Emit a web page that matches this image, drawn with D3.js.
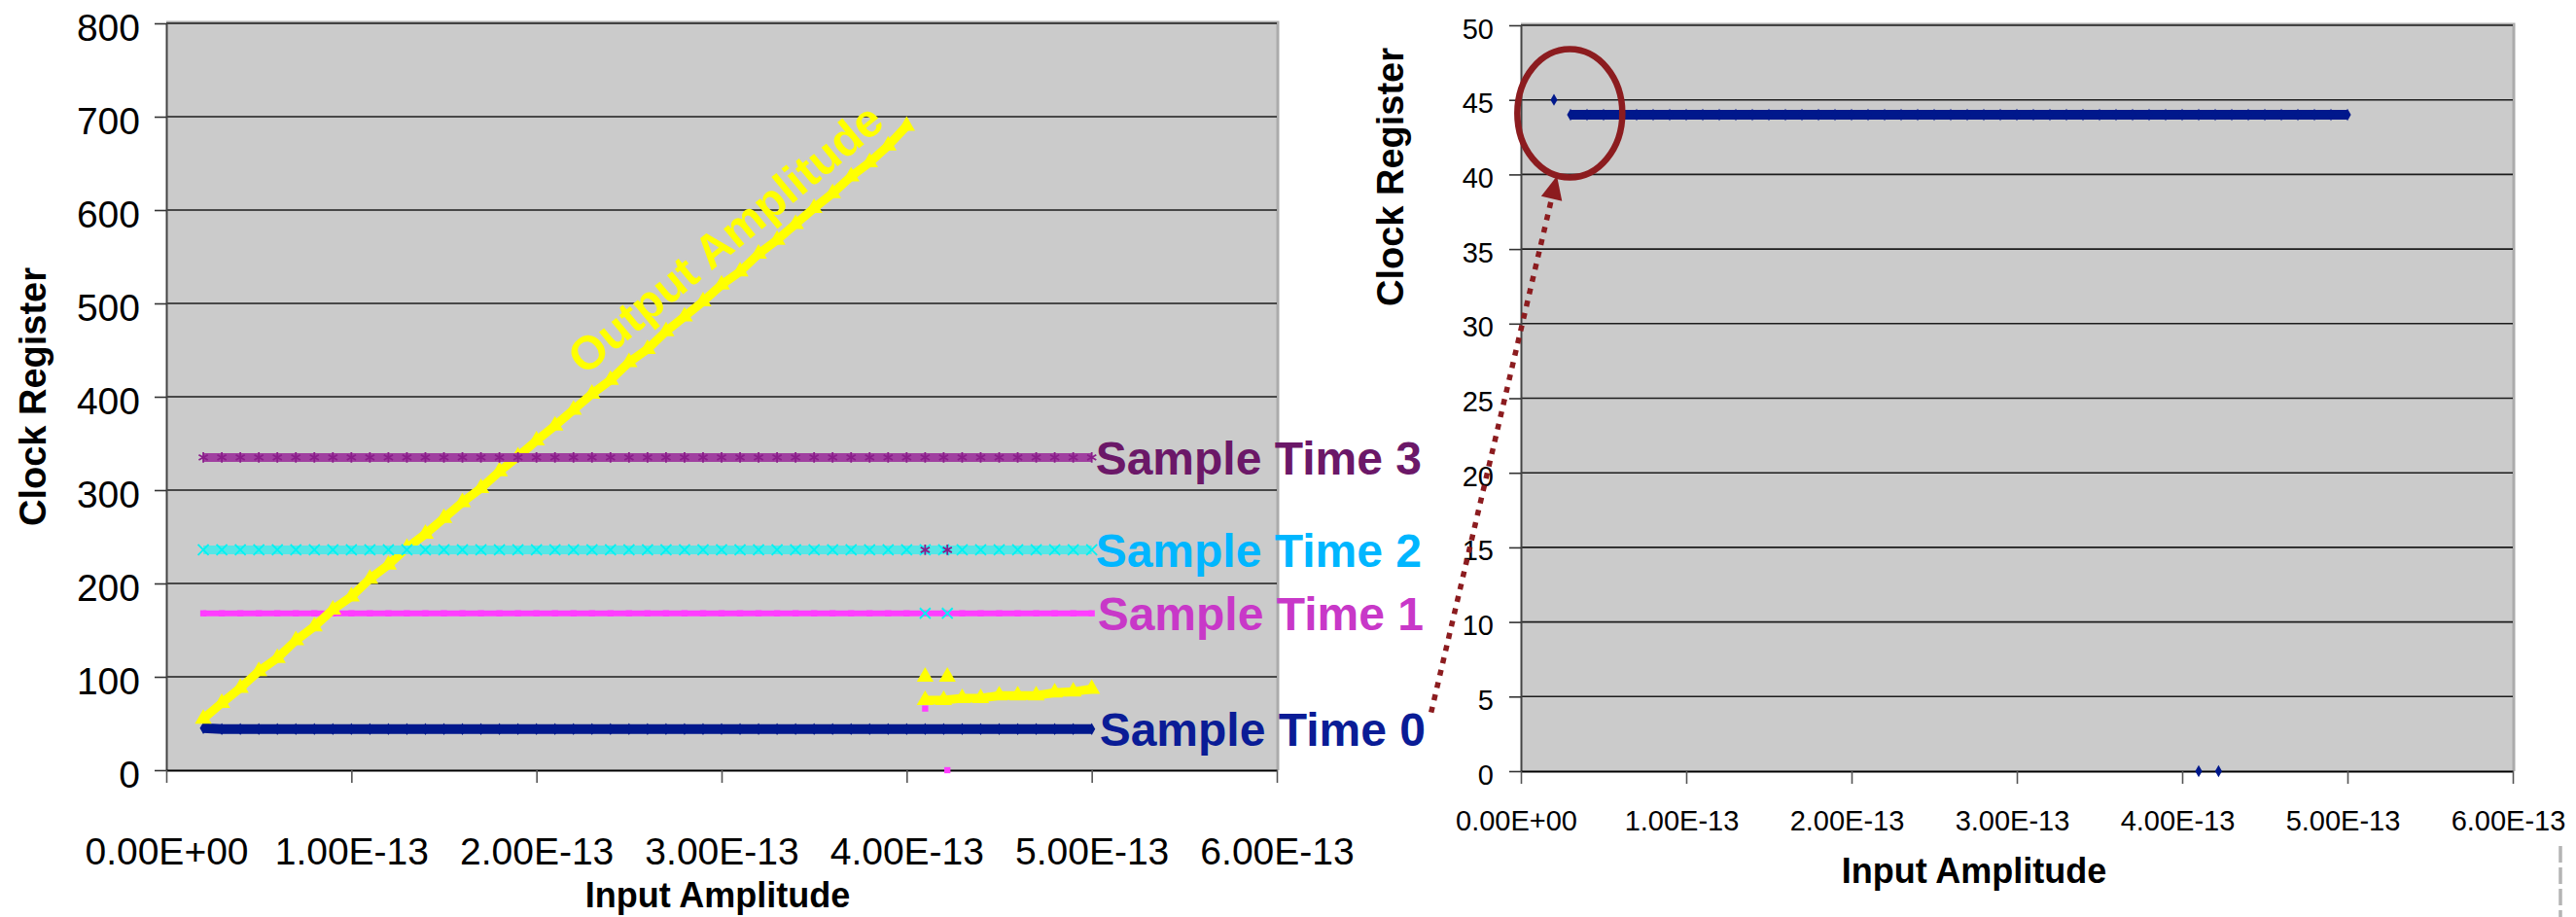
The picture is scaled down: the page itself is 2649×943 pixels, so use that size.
<!DOCTYPE html>
<html lang="en">
<head>
  <meta charset="utf-8">
  <title>Clock Register vs Input Amplitude</title>
  <script src="https://d3js.org/d3.v7.min.js"></script>
  <style>
    body { margin: 0; background: #fff; }
    svg text { font-family: "Liberation Sans", Arial, Helvetica, sans-serif; }
  </style>
</head>
<body>
<svg id="chart" width="2649" height="943"></svg>
<script>
  // input amplitude sweep, in units of 1E-13
  var inputAmplitude = [0.2,0.3,0.4,0.5,0.6,0.7,0.8,0.9,1.0,1.1,1.2,1.3,1.4,1.5,1.6,1.7,1.8,1.9,2.0,2.1,2.2,2.3,2.4,2.5,
    2.6,2.7,2.8,2.9,3.0,3.1,3.2,3.3,3.4,3.5,3.6,3.7,3.8,3.9,4.0,4.1,4.2,4.3,4.4,4.5,4.6,4.7,4.8,4.9,5.0];

  var sampleTime0 = [45,44,44,44,44,44,44,44,44,44,44,44,44,44,44,44,44,44,44,44,44,44,44,44,
    44,44,44,44,44,44,44,44,44,44,44,44,44,44,44,44,44,44,44,44,44,44,44,44,44];
  var sampleTime1 = [168,168,168,168,168,168,168,168,168,168,168,168,168,168,168,168,168,168,168,168,168,168,168,168,
    168,168,168,168,168,168,168,168,168,168,168,168,168,168,168,168,168,168,168,168,168,168,168,168,168];
  var sampleTime2 = [236,236,236,236,236,236,236,236,236,236,236,236,236,236,236,236,236,236,236,236,236,236,236,236,
    236,236,236,236,236,236,236,236,236,236,236,236,236,236,236,236,236,236,236,236,236,236,236,236,236];
  var sampleTime3 = [335,335,335,335,335,335,335,335,335,335,335,335,335,335,335,335,335,335,335,335,335,335,335,335,
    335,335,335,335,335,335,335,335,335,335,335,335,335,335,335,335,335,335,335,335,335,335,335,335,335];
  var outputAmplitude = [55,72,88,106,120,139,154,172,186,205,220,238,253,270,287,302,320,336,353,369,386,403,418,437,
    451,470,486,502,520,534,553,568,585,602,618,636,651,669,690,75,75,77,77,80,80,80,83,84,87];

  // the two odd readings near 4.1E-13
  var glitchAmplitude = [4.1, 4.22];
  var glitchTime0 = [0, 0];
  var glitchTime1 = [66, 0];
  var glitchTime2 = [168, 168];
  var glitchTime3 = [236, 236];
  var glitchOutput = [100, 100];

  var xTicks = [0, 1, 2, 3, 4, 5, 6];
  var xTickLabels = ["0.00E+00", "1.00E-13", "2.00E-13", "3.00E-13", "4.00E-13", "5.00E-13", "6.00E-13"];
  var yTicksLeft = [0, 100, 200, 300, 400, 500, 600, 700, 800];
  var yTicksRight = [0, 5, 10, 15, 20, 25, 30, 35, 40, 45, 50];
  var seriesNames = ["Sample Time 0", "Sample Time 1", "Sample Time 2", "Sample Time 3", "Output Amplitude"];

  var svg = d3.select("#chart");
  var font = '"Liberation Sans", Arial, Helvetica, sans-serif';

  var markers = {
    diamond: d3.symbol().type(d3.symbolDiamond).size(44),
    square: d3.symbol().type(d3.symbolSquare).size(40),
    triangle: d3.symbol().type(d3.symbolTriangle).size(130),
    times: d3.symbol().type(d3.symbolTimes || d3.symbolX || d3.symbolCross).size(80),
    asterisk: d3.symbol().type(d3.symbolAsterisk || d3.symbolCross).size(80)
  };

  function panel(cfg) {
    var x = d3.scaleLinear().domain([0, 6]).range([cfg.left, cfg.right]);
    var y = d3.scaleLinear().domain([0, cfg.yTicks[cfg.yTicks.length - 1]]).range([cfg.bottom, cfg.top]);
    var g = svg.append("g");

    g.append("rect")
        .attr("x", cfg.left).attr("y", cfg.top)
        .attr("width", cfg.right - cfg.left).attr("height", cfg.bottom - cfg.top)
        .attr("fill", "#cbcbcb");
    g.append("path")
        .attr("d", "M" + cfg.left + "," + (cfg.top - 1) + "H" + (cfg.right + 1) + "V" + cfg.bottom)
        .attr("fill", "none").attr("stroke", "#ababab").attr("stroke-width", 3);

    g.append("g").selectAll("line")
        .data(cfg.yTicks.slice(1))
        .join("line")
        .attr("x1", cfg.left).attr("x2", cfg.right)
        .attr("y1", function(d) { return y(d); }).attr("y2", function(d) { return y(d); })
        .attr("stroke", "#1c1c1c").attr("stroke-width", 1.6);

    var ya = g.append("g")
        .attr("transform", "translate(" + cfg.left + ",0)")
        .call(d3.axisLeft(y).tickValues(cfg.yTicks).tickSize(12).tickSizeOuter(0).tickPadding(cfg.yPad));
    ya.attr("font-family", font).attr("font-size", cfg.tickFont);
    ya.select(".domain").attr("stroke", "#444").attr("stroke-width", 2);
    ya.selectAll(".tick line").attr("stroke", "#333").attr("stroke-width", 1.6);
    ya.selectAll(".tick text").attr("fill", "#000").attr("dy", cfg.yDy);

    var xa = g.append("g")
        .attr("transform", "translate(0," + cfg.bottom + ")")
        .call(d3.axisBottom(x).tickValues(xTicks).tickSize(13).tickSizeOuter(0).tickPadding(cfg.xPad)
          .tickFormat(function(d, i) { return xTickLabels[i]; }));
    xa.attr("font-family", font).attr("font-size", cfg.tickFont);
    xa.select(".domain").attr("stroke", "#000").attr("stroke-width", 2);
    xa.selectAll(".tick line").attr("stroke", "#555").attr("stroke-width", 1.6);
    xa.selectAll(".tick text").attr("fill", "#000").attr("dx", cfg.xDx);

    g.append("text")
        .attr("transform", "translate(" + cfg.yTitle[0] + "," + cfg.yTitle[1] + ") rotate(-90)")
        .attr("text-anchor", "middle")
        .attr("font-size", 38).attr("font-weight", "bold")
        .text("Clock Register");
    g.append("text")
        .attr("x", cfg.xTitle[0]).attr("y", cfg.xTitle[1])
        .attr("text-anchor", "middle")
        .attr("font-size", 36).attr("font-weight", "bold")
        .text("Input Amplitude");

    return { g: g, x: x, y: y };
  }

  // one scatter series: a band through neighbouring readings plus its markers
  function series(p, xs, ys, s) {
    var pts = xs.map(function(v, i) { return [v, ys[i]]; });
    var runs = [], cur = [pts[0]];
    for (var i = 1; i < pts.length; i++) {
      // readings that sit close together on screen read as one continuous band
      if (Math.abs(p.y(pts[i][1]) - p.y(pts[i - 1][1])) <= s.joinPx) cur.push(pts[i]);
      else { runs.push(cur); cur = [pts[i]]; }
    }
    runs.push(cur);

    var line = d3.line().x(function(d) { return p.x(d[0]); }).y(function(d) { return p.y(d[1]); });
    var g = p.g.append("g");
    if (s.band) {
      g.selectAll("path.band")
          .data(runs.filter(function(r) { return r.length > 1; }))
          .join("path")
          .attr("class", "band")
          .attr("d", line)
          .attr("fill", "none")
          .attr("stroke", s.bandColor || s.color)
          .attr("stroke-width", s.band);
    }
    g.selectAll("path.mark")
        .data(pts)
        .join("path")
        .attr("class", "mark")
        .attr("transform", function(d) { return "translate(" + p.x(d[0]) + "," + p.y(d[1]) + ")"; })
        .attr("d", s.symbol)
        .attr("fill", s.stroke ? "none" : s.color)
        .attr("stroke", s.stroke ? s.color : "none")
        .attr("stroke-width", s.stroke || 0);
  }

  function pointsOnly(s) {
    return Object.assign({}, s, { band: 0 });
  }

  var left = panel({
    left: 171, right: 1313, top: 24, bottom: 792,
    yTicks: yTicksLeft, tickFont: 39, yPad: 15, yDy: "0.46em", xPad: 56, xDx: 0,
    yTitle: [47, 408], xTitle: [738, 933]
  });
  var right = panel({
    left: 1564, right: 2584, top: 26, bottom: 793,
    yTicks: yTicksRight, tickFont: 29, yPad: 16, yDy: "0.45em", xPad: 27, xDx: -5,
    yTitle: [1443, 182], xTitle: [2030, 908]
  });

  var styles = {
    t0: { color: "#00188c", band: 10, joinPx: 3, symbol: markers.diamond },
    t1: { color: "#ff3dff", band: 6, joinPx: 3, symbol: markers.square },
    out: { color: "#ffff00", band: 9, joinPx: 40, symbol: markers.triangle },
    t2: { color: "#00f2f2", bandColor: "#55e6e6", band: 9, joinPx: 3, symbol: markers.times, stroke: 1.8 },
    t3: { color: "#8a1e8a", bandColor: "#a040a0", band: 9, joinPx: 3, symbol: markers.asterisk, stroke: 1.8 }
  };

  series(left, inputAmplitude, sampleTime0, styles.t0);
  series(left, inputAmplitude, sampleTime1, styles.t1);
  series(left, inputAmplitude, outputAmplitude, styles.out);
  series(left, inputAmplitude, sampleTime2, styles.t2);
  series(left, inputAmplitude, sampleTime3, styles.t3);
  series(left, glitchAmplitude, glitchTime1, pointsOnly(styles.t1));
  series(left, glitchAmplitude, glitchOutput, pointsOnly(styles.out));
  series(left, glitchAmplitude, glitchTime2, pointsOnly(styles.t2));
  series(left, glitchAmplitude, glitchTime3, pointsOnly(styles.t3));

  series(right, inputAmplitude, sampleTime0, styles.t0);
  series(right, glitchAmplitude, glitchTime0, pointsOnly(styles.t0));

  // series labels at the right end of each line
  var last = inputAmplitude[inputAmplitude.length - 1];
  var labelData = [
    { name: seriesNames[3], v: sampleTime3[sampleTime3.length - 1], color: "#6b1868", dx: 4 },
    { name: seriesNames[2], v: sampleTime2[sampleTime2.length - 1], color: "#00b6ff", dx: 4 },
    { name: seriesNames[1], v: sampleTime1[sampleTime1.length - 1], color: "#c838c8", dx: 6 },
    { name: seriesNames[0], v: sampleTime0[sampleTime0.length - 1], color: "#0a1c96", dx: 8 }
  ];
  left.g.append("g").selectAll("text")
      .data(labelData)
      .join("text")
      .attr("x", function(d) { return left.x(last) + d.dx; })
      .attr("y", function(d) { return left.y(d.v); })
      .attr("dy", "0.36em")
      .attr("font-size", 48).attr("font-weight", "bold")
      .attr("fill", function(d) { return d.color; })
      .text(function(d) { return d.name; });

  left.g.append("text")
      .attr("transform", "translate(" + left.x(2.26) + "," + left.y(422) + ") rotate(-39.7)")
      .attr("font-size", 48).attr("font-weight", "bold")
      .attr("fill", "#ffff00")
      .text(seriesNames[4]);

  // callout: circle round the first readings, dotted arrow from "Sample Time 0"
  var red = "#8c1c1f";
  svg.append("ellipse")
      .attr("cx", right.x(0.296)).attr("cy", right.y(44.1))
      .attr("rx", 54).attr("ry", 66)
      .attr("fill", "none").attr("stroke", red).attr("stroke-width", 6.5);

  var from = [right.x(-0.543), right.y(3.93)];
  var tip = [right.x(0.218), right.y(39.9)];
  var len = Math.hypot(tip[0] - from[0], tip[1] - from[1]);
  var ux = (tip[0] - from[0]) / len, uy = (tip[1] - from[1]) / len;
  var base = [tip[0] - 24 * ux, tip[1] - 24 * uy];
  svg.append("line")
      .attr("x1", from[0]).attr("y1", from[1])
      .attr("x2", base[0]).attr("y2", base[1])
      .attr("stroke", red).attr("stroke-width", 5.5)
      .attr("stroke-dasharray", "6 7");
  svg.append("path")
      .attr("d", "M" + tip[0] + "," + tip[1] +
        "L" + (base[0] - 11 * uy) + "," + (base[1] + 11 * ux) +
        "L" + (base[0] + 11 * uy) + "," + (base[1] - 11 * ux) + "Z")
      .attr("fill", red);

  // faint dashed edge at the bottom right of the slide
  svg.append("line")
      .attr("x1", 2633).attr("x2", 2633).attr("y1", 870).attr("y2", 943)
      .attr("stroke", "#b4b4b4").attr("stroke-width", 3.5)
      .attr("stroke-dasharray", "17 5");
</script>
</body>
</html>
